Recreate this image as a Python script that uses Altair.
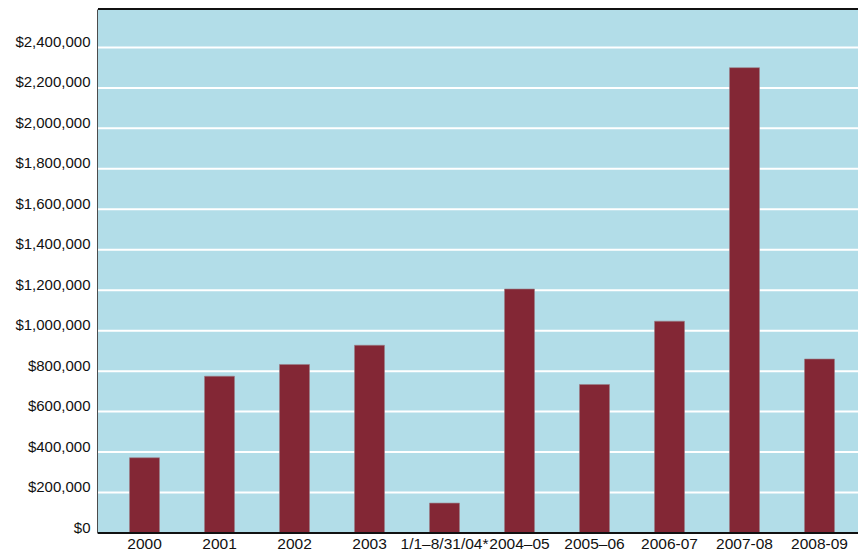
import altair as alt
import pandas as pd

periods = ["2000", "2001", "2002", "2003", "1/1\u20138/31/04*", "2004\u201305",
           "2005\u201306", "2006-07", "2007-08", "2008-09"]
contributions = [372000, 775000, 833000, 928000, 148000, 1206000,
                 734000, 1047000, 2300000, 860000]
y_ticks = list(range(0, 2400001, 200000))
title_main = "CCC Foundation Contributions 2000-2009"
title_note = "as per audit"

df = pd.DataFrame({"period": periods, "amount": contributions})
grid_df = pd.DataFrame({"v": y_ticks[1:]})

W, H = 760, 524
XR = 768
yscale = alt.Scale(domain=[0, 2590000], nice=False, zero=True)
yaxis = alt.Axis(title=None, values=y_ticks, format="$,.0f", ticks=False,
                 domain=True, domainColor="#111", domainWidth=2.5, grid=False,
                 labelFont="Liberation Sans", labelFontSize=15, labelColor="#111",
                 labelPadding=8, labelBaseline="alphabetic", labelOffset=-1)

bg = alt.Chart(df).mark_rect(color="#B2DDE8").encode(
    x=alt.value(0), x2=alt.value(XR), y=alt.value(0), y2=alt.value(H)
)

grid = alt.Chart(grid_df).mark_rule(color="white", strokeWidth=2).encode(
    y=alt.Y("v:Q", scale=yscale, axis=yaxis),
    x=alt.value(0), x2=alt.value(XR)
)

bars = alt.Chart(df).mark_bar(color="#832735", stroke="#9b8088", strokeWidth=0.6).encode(
    x=alt.X("period:N", sort=periods,
            scale=alt.Scale(paddingInner=0.6, paddingOuter=0.42, range=[0, XR]),
            axis=alt.Axis(title=None, labelAngle=0, ticks=False, domain=False,
                          labelFont="Liberation Sans", labelFontSize=15.5,
                          labelColor="#111", labelPadding=3, labelBaseline="top",
                          labelOverlap=False, labelFlush=False)),
    y=alt.Y("amount:Q", scale=yscale, axis=yaxis),
)

edges_df = pd.DataFrame({"v": [0, 2590000]})
edges = alt.Chart(edges_df).mark_rule(color="#111", strokeWidth=2).encode(
    y=alt.Y("v:Q", scale=yscale, axis=yaxis),
    x=alt.value(0), x2=alt.value(XR)
)

t1 = alt.Chart(pd.DataFrame({"t": [title_main]})).mark_text(
    font="Liberation Sans", fontSize=26,
    fontWeight="bold", align="right", baseline="alphabetic", color="#111"
).encode(text="t:N", x=alt.value(591), y=alt.value(-3))
t2 = alt.Chart(pd.DataFrame({"t": [title_note]})).mark_text(
    font="Liberation Sans", fontSize=20,
    fontStyle="italic", align="left", baseline="alphabetic", color="#111"
).encode(text="t:N", x=alt.value(596), y=alt.value(-3))

chart = alt.layer(bg, grid, bars, edges, t1, t2).properties(
    width=W, height=H,
    autosize=alt.AutoSizeParams(type="none"),
    padding={"left": 90, "top": 1, "right": 0, "bottom": 18},
).configure_view(stroke=None).configure(background="white")

chart.save("out.html", embed_options={"renderer": "svg", "actions": False})
